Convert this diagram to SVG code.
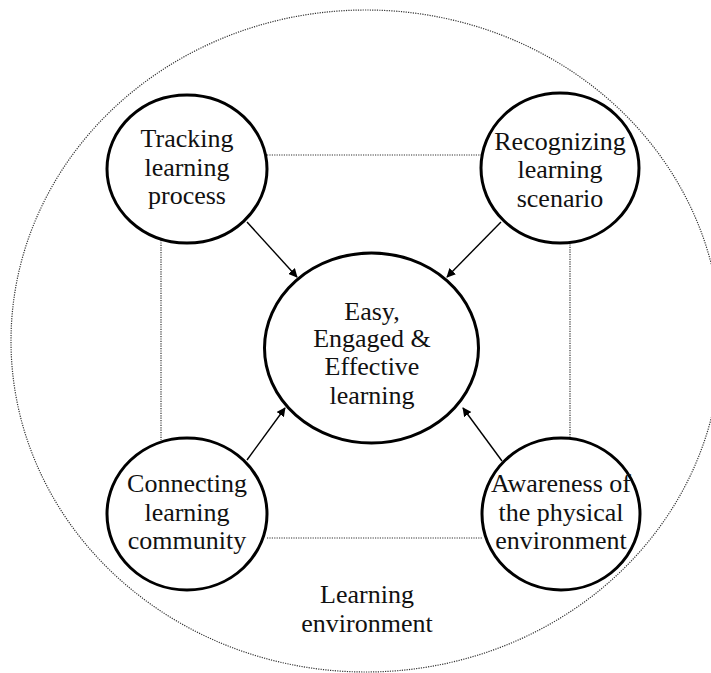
<svg xmlns="http://www.w3.org/2000/svg" width="711" height="673" viewBox="0 0 711 673">
<style>
text{font-family:"Liberation Serif","Times New Roman",serif;font-size:26px;fill:#111;text-anchor:middle}
.node{fill:#fff;stroke:#000;stroke-width:3}
.dot{fill:none;stroke:#333;stroke-width:1.2;stroke-dasharray:1.2 1.2}
.arr{stroke:#000;stroke-width:1.4;fill:none;marker-end:url(#ah)}
</style>
<defs>
<marker id="ah" viewBox="0 0 10 10" refX="9" refY="5" markerWidth="9" markerHeight="9" markerUnits="userSpaceOnUse" orient="auto">
<path d="M0,0L10,5L0,10z" fill="#000"/>
</marker>
</defs>
<rect width="711" height="673" fill="#fff"/>
<g id="environment">
<ellipse class="dot" cx="366" cy="341" rx="355" ry="331"/>
<text x="367" y="603">Learning</text>
<text x="367" y="632">environment</text>
</g>
<g id="connectors">
<line class="dot" x1="267" y1="155" x2="481" y2="155"/>
<line class="dot" x1="267" y1="538" x2="482" y2="538"/>
<line class="dot" x1="161" y1="240" x2="161" y2="440"/>
<line class="dot" x1="570" y1="242" x2="570" y2="439"/>
<line class="arr" x1="247" y1="222" x2="297" y2="277"/>
<line class="arr" x1="501" y1="222" x2="447" y2="277"/>
<line class="arr" x1="247" y1="460" x2="285" y2="408"/>
<line class="arr" x1="502" y1="461" x2="463" y2="408"/>
</g>
<g id="tracking">
<ellipse class="node" cx="187" cy="169" rx="80" ry="74"/>
<text x="187" y="147">Tracking</text>
<text x="187" y="176">learning</text>
<text x="187" y="204">process</text>
</g>
<g id="recognizing">
<ellipse class="node" cx="560" cy="168" rx="79" ry="75"/>
<text x="560" y="150">Recognizing</text>
<text x="560" y="178">learning</text>
<text x="560" y="207">scenario</text>
</g>
<g id="connecting">
<ellipse class="node" cx="187" cy="514" rx="80" ry="76"/>
<text x="187" y="492">Connecting</text>
<text x="187" y="521">learning</text>
<text x="187" y="549">community</text>
</g>
<g id="awareness">
<ellipse class="node" cx="561" cy="514" rx="79" ry="76"/>
<text x="561" y="492">Awareness of</text>
<text x="561" y="521">the physical</text>
<text x="561" y="549">environment</text>
</g>
<g id="center">
<ellipse class="node" cx="371.5" cy="348" rx="107" ry="95"/>
<text x="372" y="320">Easy,</text>
<text x="372" y="347">Engaged &amp;</text>
<text x="372" y="375">Effective</text>
<text x="372" y="404">learning</text>
</g>
</svg>
